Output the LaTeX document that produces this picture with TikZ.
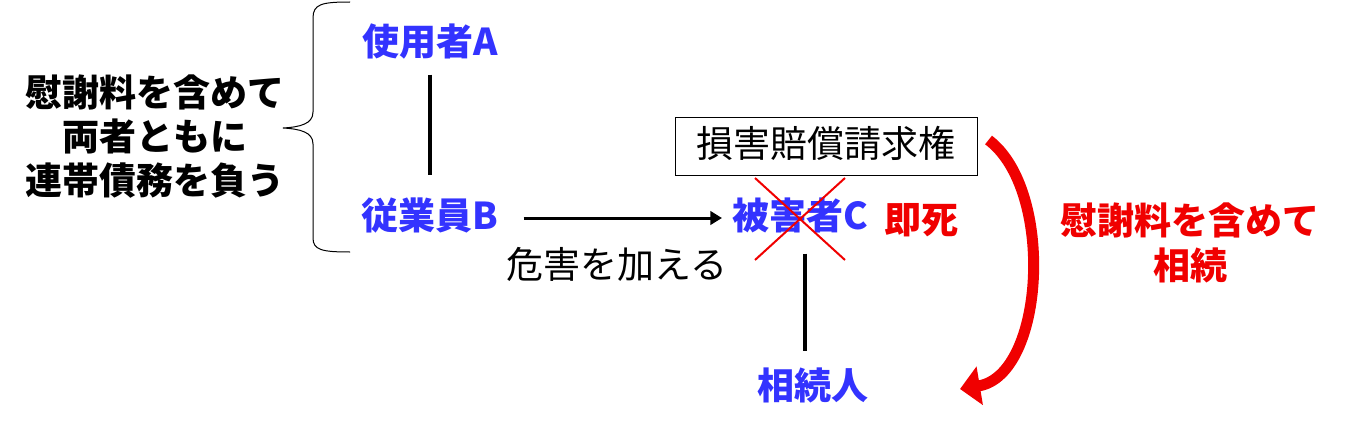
\documentclass[tikz,border=0pt]{standalone}
\usepackage{fontspec}
\setmainfont{Noto Sans CJK JP}
\usepackage{xcolor}
\usetikzlibrary{arrows.meta}
\definecolor{jblue}{RGB}{51,51,255}
\definecolor{jred}{RGB}{240,0,0}

\begin{document}
\begin{tikzpicture}[x=1pt,y=-1pt,>=Triangle,
    person/.style={font=\fontsize{37}{44}\selectfont\bfseries,text=jblue,inner sep=0pt,text height=30pt,text depth=7pt},
    note/.style={font=\fontsize{37}{44}\selectfont,inner sep=0pt,text height=30pt,text depth=7pt},
    rednote/.style={font=\fontsize{37}{45}\selectfont\bfseries,text=jred,align=center,inner sep=0pt}]

        % Coordinates are in pixels of the reference (y grows downward)
        \useasboundingbox (0,0) rectangle (1353,436);

        % People
        \node[person] (userA) at (430,44) {使用者A};
        \node[person] (empB) at (430,218) {従業員B};
        \node[person] (victim) at (800,218) {被害者C};
        \node[person] (heir) at (813,388) {相続人};

        % Employer -- employee
        \draw[line width=3.5pt,shorten <=12pt,shorten >=24pt] (userA.south) -- (empB.north);

        % Harm done by B to C
        \draw[->,line width=3pt,shorten <=25pt,shorten >=10pt] (empB.east) -- (victim.west);
        \node[note] (harm) at (617,267) {危害を加える};

        % C dies at once: cross over the name
        \draw[jred,line width=2pt] (755,178) -- (845,260);
        \draw[jred,line width=2pt] (845,178) -- (755,260);
        \node[rednote] (death) at (921,220) {即死};

        % Claim for damages
        \node[note,draw,line width=1pt,minimum width=302pt,minimum height=58pt,text height=30pt] (claim) at (826,146) {損害賠償請求権};

        % C -- heir
        \coordinate (cfoot) at ([xshift=5pt]victim.south);
        \draw[line width=3.5pt,shorten <=17pt,shorten >=18pt] (cfoot) -- (cfoot |- heir.north);

        % Inheritance arrow
        \coordinate (arrowend) at (960,389);
        \draw[jred,line width=11pt,-{Triangle[length=20pt,width=38pt]}]
            ([xshift=11pt,yshift=6pt]claim.east) .. controls (1055,190) and (1045,375) .. (arrowend);
        \node[rednote] (inherit) at (1190,243) {慰謝料を含めて\\相続};

        % Brace and joint liability
        \draw[line width=1pt] (350,2) .. controls (322,2) and (313,4) .. (313,18) -- (313,112)
            .. controls (313,124) and (300,127) .. (283,128)
            .. controls (300,129) and (313,132) .. (313,144) -- (313,238)
            .. controls (313,250) and (322,252) .. (350,252);
        \node[font=\fontsize{37}{44}\selectfont\bfseries,align=center,inner sep=0pt] (joint) at (155,137) {慰謝料を含めて\\両者ともに\\連帯債務を負う};

\end{tikzpicture}
\end{document}
